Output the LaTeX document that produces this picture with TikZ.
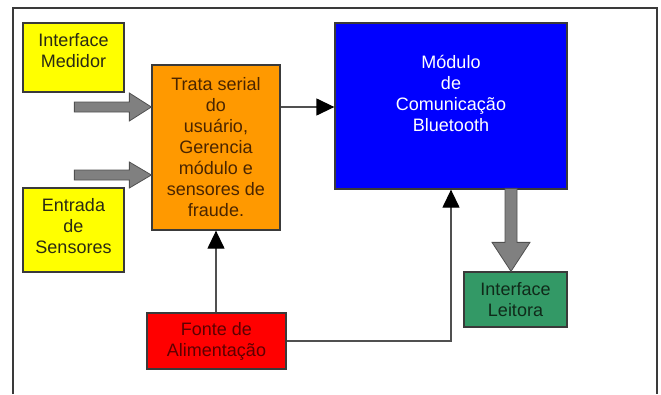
\documentclass[tikz,border=0pt]{standalone}
\usepackage{fontspec}
\setmainfont{Liberation Sans}
\usetikzlibrary{arrows.meta,calc}
\definecolor{boxline}{HTML}{3A3A3A}
\definecolor{connline}{HTML}{505050}
\definecolor{cyel}{HTML}{FFFF00}
\definecolor{corg}{HTML}{FF9900}
\definecolor{cblu}{HTML}{0000FF}
\definecolor{cred}{HTML}{FF0000}
\definecolor{cgrn}{HTML}{339966}
\definecolor{fatfill}{HTML}{808080}
\definecolor{fatline}{HTML}{505050}
\definecolor{txtdark}{HTML}{2A2A14}
\definecolor{txtorg}{HTML}{4A2500}
\definecolor{txtred}{HTML}{5C0000}
\definecolor{txtgrn}{HTML}{102A1A}
\begin{document}
\begin{tikzpicture}[x=1pt,y=-1pt,
  box/.style={draw=boxline,line width=1.3pt,inner sep=0pt},
  txt/.style={font=\fontsize{18}{21}\selectfont,align=center,inner sep=0pt},
  fat/.style={fill=fatfill,draw=fatline,line width=0.8pt,line join=miter},
  conn/.style={draw=connline,line width=1.3pt,-{Triangle[length=18pt,width=17pt,fill=black,color=black]}},
  frame/.style={draw=boxline,line width=1.3pt}]
\useasboundingbox (0,0) rectangle (661,394);
\draw[frame] (13,394) -- (13,8) -- (657,8) -- (657,394);

\node[box,fill=cyel,minimum width=101pt,minimum height=69pt,
  label={[txt,text=txtdark,yshift=7pt]center:Interface\\Medidor}] (med) at (73.5,57.5) {};
\node[box,fill=cyel,minimum width=101pt,minimum height=84pt,
  label={[txt,text=txtdark,yshift=4pt]center:Entrada\\de\\Sensores}] (ent) at (73.5,230) {};
\node[box,fill=corg,minimum width=128pt,minimum height=165pt,
  label={[txt,text=txtorg]center:Trata serial\\do\\usuário,\\Gerencia\\módulo e\\sensores de\\fraude.}] (org) at (216,147.5) {};
\node[box,fill=cblu,minimum width=232pt,minimum height=166pt,
  label={[txt,text=white,yshift=13pt]center:Módulo\\de\\Comunicação\\Bluetooth}] (blu) at (451,106) {};
\node[box,fill=cred,minimum width=139pt,minimum height=56pt,
  label={[txt,text=txtred]center:Fonte de\\Alimentação}] (fon) at (216.5,341) {};
\node[box,fill=cgrn,minimum width=103pt,minimum height=55pt,
  label={[txt,text=txtgrn]center:Interface\\Leitora}] (lei) at (515.5,299.5) {};

% fat gray arrows
\coordinate (t1) at (org.west |- 0,107);
\coordinate (t2) at (org.west |- 0,175);
\coordinate (t3) at ($(lei.north)+(-4.5,0)$);
\filldraw[fat] (t1) -- ++(-22,-14) -- ++(0,9) -- ++(-55,0) -- ++(0,10) -- ++(55,0) -- ++(0,9) -- cycle;
\filldraw[fat] (t2) -- ++(-22,-13) -- ++(0,8) -- ++(-55,0) -- ++(0,10) -- ++(55,0) -- ++(0,8) -- cycle;
\filldraw[fat] (t3) -- ++(-19,-29) -- ++(13,0) -- ++(0,-54) -- ++(12,0) -- ++(0,54) -- ++(13,0) -- cycle;

% thin connectors
\coordinate (c1) at (org.east |- 0,107);
\draw[conn] (c1) -- (blu.west |- c1);
\draw[conn] (fon.north -| org.south) -- (org.south);
\draw[conn] (fon.east) -| (blu.south);
\end{tikzpicture}
\end{document}
